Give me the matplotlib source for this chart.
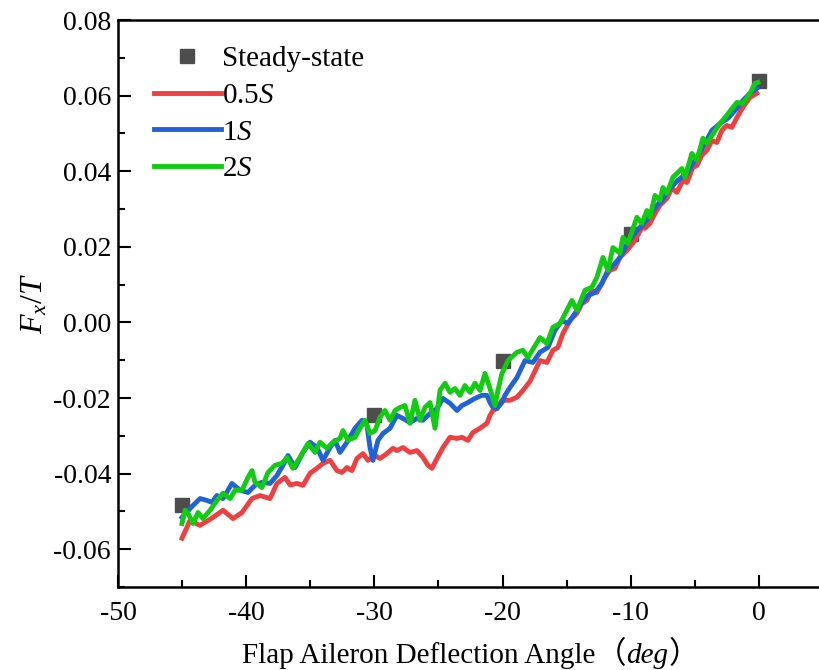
import matplotlib
matplotlib.use("Agg")
import matplotlib.pyplot as plt
from matplotlib.offsetbox import TextArea, HPacker, AnchoredOffsetbox
from matplotlib.ticker import MultipleLocator

plt.rcParams['font.family'] = ['Liberation Serif', 'Noto Sans CJK SC']
plt.rcParams['mathtext.fontset'] = 'custom'
plt.rcParams['mathtext.rm'] = 'Liberation Serif'
plt.rcParams['mathtext.it'] = 'Liberation Serif:italic'

# steady-state points
ss_x = [-45, -30, -20, -10, 0]
ss_y = [-0.0484, -0.0246, -0.0103, 0.0235, 0.0638]

# 0.5S
red_x = [-45.01, -44.38, -43.60, -42.59, -41.81, -41.03, -40.33, -39.55, -38.92, -38.14,
         -37.60, -36.97, -36.58, -36.04, -35.57, -35.02, -34.48, -34.01, -33.46, -32.92,
         -32.53, -32.14, -31.75, -31.36, -30.89, -30.50, -29.95, -29.56, -29.02, -28.55,
         -28.24, -27.77, -27.22, -26.68, -26.21, -25.82, -25.51, -25.12, -24.65, -24.10,
         -23.56, -23.17, -22.70, -22.31, -21.76, -21.22, -20.98, -20.75, -20.44, -20.05,
         -19.42, -18.88, -18.41, -17.86, -17.08, -16.54, -16.07, -15.68, -15.29, -14.74,
         -14.20, -13.81, -13.42, -13.03, -12.64, -12.01, -11.62, -11.23, -10.84, -10.30,
         -9.67, -9.13, -8.89, -8.50, -8.11, -7.72, -7.18, -6.79, -6.40, -5.93,
         -5.62, -5.15, -4.84, -4.45, -4.06, -3.67, -3.28, -2.89, -2.50, -2.11,
         -1.72, -1.25, -0.70, -0.16]
red_y = [-0.0571, -0.0524, -0.0537, -0.0516, -0.0497, -0.0519, -0.0503, -0.0466, -0.0458, -0.0466,
         -0.0426, -0.0410, -0.0430, -0.0426, -0.0431, -0.0399, -0.0386, -0.0373, -0.0365, -0.0392,
         -0.0397, -0.0384, -0.0392, -0.0360, -0.0347, -0.0365, -0.0352, -0.0360, -0.0347, -0.0333,
         -0.0339, -0.0331, -0.0344, -0.0339, -0.0357, -0.0378, -0.0386, -0.0360, -0.0331, -0.0304,
         -0.0307, -0.0304, -0.0312, -0.0291, -0.0280, -0.0267, -0.0246, -0.0233, -0.0228, -0.0206,
         -0.0206, -0.0198, -0.0180, -0.0156, -0.0101, -0.0106, -0.0074, -0.0066, -0.0029, 0.0005,
         0.0024, 0.0050, 0.0058, 0.0085, 0.0079, 0.0119, 0.0138, 0.0143, 0.0172, 0.0190,
         0.0217, 0.0251, 0.0249, 0.0262, 0.0288, 0.0310, 0.0328, 0.0355, 0.0344, 0.0376,
         0.0370, 0.0410, 0.0415, 0.0442, 0.0455, 0.0481, 0.0476, 0.0508, 0.0521, 0.0516,
         0.0542, 0.0569, 0.0595, 0.0606]

# 1S
blue_x = [-45.01, -44.38, -43.60, -43.06, -42.67, -42.28, -41.81, -41.11, -40.48, -39.86,
          -39.31, -38.77, -38.14, -37.60, -37.13, -36.74, -36.19, -35.57, -35.02, -34.48,
          -34.01, -33.46, -33.07, -32.68, -32.14, -31.51, -30.97, -30.58, -30.34, -30.11,
          -29.72, -29.33, -28.78, -28.24, -27.77, -27.22, -26.68, -26.21, -25.66, -25.12,
          -24.65, -24.10, -23.56, -23.17, -22.70, -22.15, -21.61, -21.22, -20.98, -20.75,
          -20.44, -20.05, -19.81, -19.42, -18.88, -18.25, -17.63, -17.08, -16.46, -15.91,
          -15.37, -14.90, -14.35, -13.81, -13.34, -12.79, -12.25, -11.78, -11.23, -10.84,
          -10.22, -9.52, -8.74, -8.11, -7.57, -6.94, -6.32, -5.62, -4.99, -4.37,
          -3.67, -3.04, -2.42, -1.72, -1.25, -0.70, -0.16]
blue_y = [-0.0516, -0.0492, -0.0466, -0.0471, -0.0476, -0.0458, -0.0466, -0.0426, -0.0444, -0.0450,
          -0.0431, -0.0423, -0.0426, -0.0405, -0.0378, -0.0352, -0.0384, -0.0344, -0.0317, -0.0331,
          -0.0365, -0.0331, -0.0312, -0.0344, -0.0317, -0.0280, -0.0259, -0.0272, -0.0331, -0.0365,
          -0.0312, -0.0294, -0.0280, -0.0246, -0.0254, -0.0265, -0.0254, -0.0259, -0.0241, -0.0228,
          -0.0201, -0.0214, -0.0233, -0.0220, -0.0212, -0.0201, -0.0193, -0.0193, -0.0212, -0.0225,
          -0.0228, -0.0212, -0.0193, -0.0172, -0.0146, -0.0101, -0.0106, -0.0079, -0.0066, -0.0021,
          0.0005, -0.0003, 0.0024, 0.0053, 0.0071, 0.0079, 0.0103, 0.0138, 0.0156, 0.0172,
          0.0212, 0.0243, 0.0270, 0.0304, 0.0323, 0.0354, 0.0376, 0.0394, 0.0429, 0.0463,
          0.0508, 0.0526, 0.0540, 0.0566, 0.0587, 0.0606, 0.0619]

# 2S
green_x = [-45.01, -44.77, -44.54, -44.15, -43.76, -43.37, -42.82, -42.28, -41.81, -41.26,
           -40.87, -40.33, -39.86, -39.55, -39.31, -38.77, -38.30, -37.75, -37.21, -36.82,
           -36.35, -35.80, -35.18, -34.63, -34.24, -33.70, -33.23, -32.68, -32.45, -32.06,
           -31.51, -31.12, -30.73, -30.34, -29.95, -29.56, -29.17, -28.78, -28.39, -28.00,
           -27.61, -27.22, -26.83, -26.44, -26.05, -25.66, -25.27, -24.88, -24.49, -24.10,
           -23.71, -23.32, -22.93, -22.54, -22.15, -21.76, -21.37, -20.98, -20.59, -20.36,
           -20.05, -19.81, -19.58, -18.88, -18.41, -18.02, -17.08, -16.54, -16.07, -15.52,
           -14.59, -14.20, -13.57, -13.03, -12.64, -12.17, -11.78, -11.39, -10.84, -10.61,
           -10.22, -9.52, -9.13, -8.74, -8.50, -8.11, -7.72, -7.49, -7.18, -6.71,
           -6.01, -5.77, -5.23, -4.84, -4.37, -4.06, -3.04, -2.50, -2.03, -1.72,
           -1.25, -0.70, -0.31, -0.08]
green_y = [-0.0532, -0.0497, -0.0505, -0.0532, -0.0503, -0.0519, -0.0497, -0.0471, -0.0452, -0.0466,
           -0.0444, -0.0444, -0.0410, -0.0392, -0.0423, -0.0437, -0.0397, -0.0378, -0.0373, -0.0357,
           -0.0386, -0.0357, -0.0320, -0.0344, -0.0317, -0.0333, -0.0317, -0.0307, -0.0286, -0.0312,
           -0.0304, -0.0280, -0.0259, -0.0294, -0.0286, -0.0251, -0.0233, -0.0259, -0.0233, -0.0225,
           -0.0220, -0.0267, -0.0206, -0.0259, -0.0225, -0.0212, -0.0280, -0.0180, -0.0161, -0.0185,
           -0.0175, -0.0193, -0.0167, -0.0185, -0.0161, -0.0180, -0.0135, -0.0175, -0.0220, -0.0180,
           -0.0135, -0.0119, -0.0101, -0.0079, -0.0074, -0.0093, -0.0040, -0.0056, -0.0013, -0.0003,
           0.0058, 0.0032, 0.0085, 0.0093, 0.0119, 0.0172, 0.0138, 0.0198, 0.0183, 0.0225,
           0.0209, 0.0278, 0.0262, 0.0296, 0.0278, 0.0336, 0.0323, 0.0357, 0.0341, 0.0384,
           0.0407, 0.0384, 0.0447, 0.0429, 0.0487, 0.0474, 0.0526, 0.0548, 0.0569, 0.0582,
           0.0579, 0.0606, 0.0632, 0.0635]

fig = plt.figure(figsize=(8.2, 6.7), dpi=100)
ax = fig.add_axes([118/820, 83/670, 705/820, 567/670])

ax.plot(ss_x, ss_y, 's', color='#4d4d4d', ms=10, ls='none', label='Steady-state', zorder=2)
ax.plot(red_x, red_y, color='#ee4040', lw=3.5, label='0.5$S$', zorder=3)
ax.plot(blue_x, blue_y, color='#1f63d6', lw=3.5, label='1$S$', zorder=3)
ax.plot(green_x, green_y, color='#11cc11', lw=3.5, label='2$S$', zorder=3)

ax.set_xlim(-50, 5)
ax.set_ylim(-0.07, 0.08)
ax.xaxis.set_minor_locator(MultipleLocator(5))
ax.yaxis.set_minor_locator(MultipleLocator(0.01))
ax.set_xticks([-50, -40, -30, -20, -10, 0])
ax.set_yticks([-0.06, -0.04, -0.02, 0.00, 0.02, 0.04, 0.06, 0.08])
ax.set_yticklabels(['-0.06', '-0.04', '-0.02', '0.00', '0.02', '0.04', '0.06', '0.08'])
ax.set_xticklabels(['-50', '-40', '-30', '-20', '-10', '0'])
ax.tick_params(which='both', direction='in', top=False, right=False, labelsize=20, width=1.5)
ax.tick_params(which='major', length=9)
ax.tick_params(which='minor', length=5)
ax.tick_params(axis='x', which='major', pad=10)
ax.tick_params(axis='y', which='major', pad=5)
for s in ax.spines.values():
    s.set_linewidth(1.8)

ax.set_ylabel('$F_x/T$', fontsize=23, labelpad=3)

# x label with fullwidth brackets and italic deg
serif = dict(family='Liberation Serif', size=21)
cjk = dict(family='Noto Sans CJK SC', size=22)
parts = [TextArea('Flap Aileron Deflection Angle', textprops=serif),
         TextArea('（', textprops=cjk),
         TextArea('deg', textprops=dict(family='Liberation Serif', size=21, style='italic')),
         TextArea('）', textprops=cjk)]
box = HPacker(children=parts, align='baseline', pad=0, sep=0)
anch = AnchoredOffsetbox(loc='upper center', child=box, frameon=False,
                         bbox_to_anchor=(0.5, -0.092), bbox_transform=ax.transAxes,
                         borderpad=0, pad=0)
ax.add_artist(anch)

leg = ax.legend(loc='upper left', bbox_to_anchor=(0.034, 0.975), frameon=False,
                fontsize=21, handlelength=2.3, handletextpad=0.05, labelspacing=0.35,
                borderaxespad=0)

fig.savefig('out.png', dpi=100)
